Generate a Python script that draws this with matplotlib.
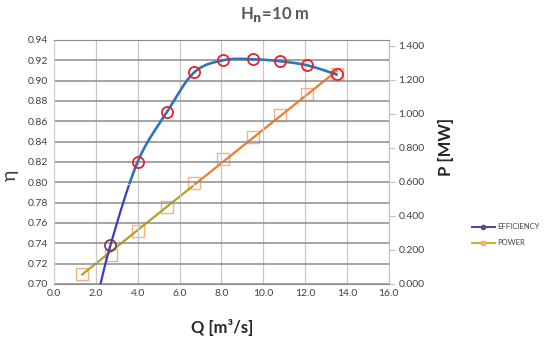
import matplotlib
matplotlib.use("Agg")
import matplotlib.pyplot as plt
import numpy as np
from matplotlib.lines import Line2D

plt.rcParams['font.family'] = ['Lato', 'DejaVu Sans']

# efficiency test points
q_eff = [2.7, 4.0, 5.4, 6.7, 8.1, 9.5, 10.8, 12.1, 13.5]
eta = [0.738, 0.820, 0.869, 0.908, 0.920, 0.921, 0.919, 0.915, 0.906]

# power test points
q_pow = [1.35, 2.75, 4.0, 5.4, 6.7, 8.1, 9.5, 10.8, 12.1, 13.5]
power = [0.060, 0.171, 0.313, 0.454, 0.596, 0.737, 0.861, 0.991, 1.115, 1.233]

x_ticks = np.arange(0, 16.1, 2.0)
eta_ticks = np.arange(0.70, 0.941, 0.02)
p_ticks = np.arange(0, 1.41, 0.2)
P_TOP = 1.435


def smooth_line(x, y, sx, sy, n=30):
    # spreadsheet-style smoothed line: bezier segments with catmull-rom control points,
    # computed in screen-like units so the shape does not depend on axis scaling
    P = np.column_stack([np.asarray(x, float) * sx, np.asarray(y, float) * sy])
    Q = np.vstack([P[0], P, P[-1]])
    t = np.linspace(0, 1, n)[:, None]
    out = []
    for i in range(1, len(Q) - 2):
        p0, p3 = Q[i], Q[i + 1]
        c1 = p0 + (Q[i + 1] - Q[i - 1]) / 6
        c2 = p3 - (Q[i + 2] - Q[i]) / 6
        out.append((1 - t)**3 * p0 + 3 * (1 - t)**2 * t * c1 + 3 * (1 - t) * t**2 * c2 + t**3 * p3)
    out = np.vstack(out)
    return out[:, 0] / sx, out[:, 1] / sy


fig = plt.figure(figsize=(5.5, 3.38), dpi=100)
ax = fig.add_axes([0.098, 0.160, 0.609, 0.722])
ax2 = ax.twinx()

txt = '#404040'
ax.set_xlim(0, 16)
ax.set_ylim(0.70, 0.94)
ax.set_xticks(x_ticks)
ax.set_yticks(eta_ticks)
ax.set_xticklabels([f"{v:.1f}" for v in x_ticks])
ax.set_yticklabels([f"{v:.2f}" for v in eta_ticks])
ax.tick_params(length=0, labelsize=7.5, colors=txt, pad=4)
ax.grid(axis='y', color='#8c8c8c', lw=1.1)
ax.grid(axis='x', color='#c8c8c8', lw=0.9)
ax.spines['left'].set_color('#d0d0d0')
for s in ['bottom', 'top']:
    ax.spines[s].set_color('#8c8c8c')
ax.spines['right'].set_visible(False)

ax2.set_ylim(0, P_TOP)
ax2.set_yticks(p_ticks)
ax2.set_yticklabels([f"{v:.3f}" for v in p_ticks])
ax2.tick_params(length=4, width=0.8, labelsize=7.5, pad=3)
ax2.tick_params(axis='y', colors='#bfbfbf', labelcolor=txt)
for s in ['left', 'top', 'bottom']:
    ax2.spines[s].set_visible(False)
ax2.spines['right'].set_color('#bfbfbf')

# efficiency curve: lower end extended with a quadratic through the first three points
sx, sy = 335 / 16, 244 / 0.24
cq = np.polyfit(q_eff[:3], eta[:3], 2)
q_lo = 2.0
e_lo = np.polyval(cq, q_lo)
qs, es = smooth_line([q_lo] + q_eff, [e_lo] + eta, sx, sy)
low = qs <= 3.6
ax.plot(qs[low], es[low], color='#3c3cc8', lw=1.6, zorder=3)
ax.plot(qs[~low], es[~low], color='#2e75b6', lw=1.9, zorder=3)

# power trend
cp = np.polyfit(q_pow, power, 1)
qp = np.linspace(q_pow[0], q_pow[-1], 100)
pp = np.polyval(cp, qp)
lowp = qp <= 6.7
ax2.plot(qp[lowp], pp[lowp], color='#b8a020', lw=1.6, zorder=3)
ax2.plot(qp[~lowp], pp[~lowp], color='#f07a30', lw=1.6, zorder=3)
ax2.plot(q_pow, power, ls='none', marker='s', ms=8, mfc='none', mec='#f4b183', mew=1.0, zorder=2)

ax.plot(q_eff[1:], eta[1:], ls='none', marker='o', ms=8,
        mfc='none', mec='#e8202a', mew=1.3, zorder=5, clip_on=False)
ax.plot(q_eff[:1], eta[:1], ls='none', marker='o', ms=8,
        mfc='none', mec='#7a3a48', mew=1.2, zorder=5)
ax.set_zorder(1)
ax.patch.set_visible(False)
ax2.set_zorder(0)
ax2.patch.set_visible(True)
ax2.patch.set_facecolor('white')

fig.text(0.5, 0.958, r"H$_\mathbf{n}$=10 m", ha='center', va='center', fontsize=12,
         fontweight='bold', color='#595959')
fig.text(0.018, 0.48, "η", rotation=90, ha='center', va='center', fontsize=14, color=txt)
fig.text(0.81, 0.565, "P [MW]", rotation=90, ha='center', va='center', fontsize=12,
         fontweight='bold', color='#262626')
fig.text(0.404, 0.032, "Q [m³/s]", ha='center', va='center', fontsize=12,
         fontweight='bold', color='#262626')

handles = [Line2D([], [], color='#4040c0', lw=1.4, marker='o', ms=3, mfc='#555555', mec='#555555'),
           Line2D([], [], color='#c8b020', lw=1.4, marker='s', ms=3, mfc='#f4b183', mec='#f4b183')]
fig.legend(handles, ['EFFICIENCY', 'POWER'], loc='center left', bbox_to_anchor=(0.845, 0.305),
           frameon=False, fontsize=5.5, handlelength=3.0, labelspacing=1.2, handletextpad=0.4,
           labelcolor='#404040')

fig.savefig("out.png", dpi=100)
